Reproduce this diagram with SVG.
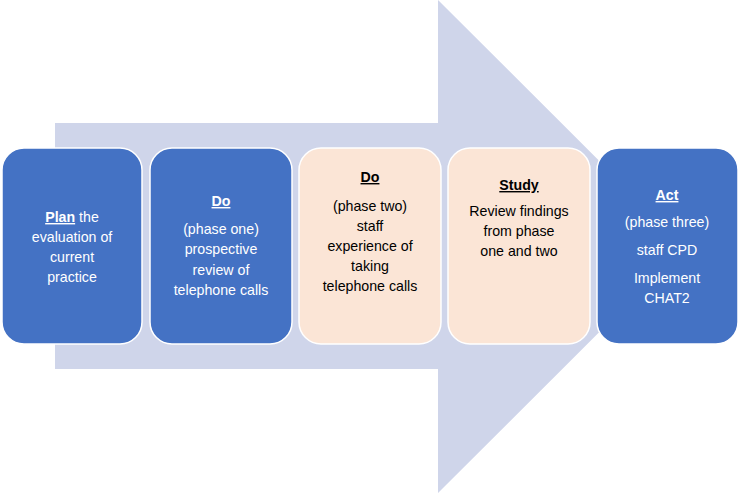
<svg xmlns="http://www.w3.org/2000/svg" width="740" height="493" viewBox="0 0 740 493">
<style>
.box{stroke:#ffffff;stroke-width:1.5}
.blue{fill:#4472C4}
.peach{fill:#FBE5D6}
text{font-family:"Liberation Sans",Arial,sans-serif;font-size:14.2px;text-anchor:middle}
.w{fill:#ffffff}
.k{fill:#000000}
.h{font-weight:bold;text-decoration:underline}
</style>
<rect width="740" height="493" fill="#ffffff"/>
<g id="connectors">
<polygon points="55,123 438,123 438,0 685,246.5 438,493 438,369 55,369" fill="#CFD5EA"/>
</g>
<g id="node-plan">
<rect class="box blue" x="2" y="148" width="140" height="196" rx="22"/>
<text class="w"><tspan x="72" y="222"><tspan class="h">Plan</tspan> the</tspan><tspan x="72" y="242">evaluation of</tspan><tspan x="72" y="262">current</tspan><tspan x="72" y="282">practice</tspan></text>
</g>
<g id="node-do1">
<rect class="box blue" x="150" y="148" width="142" height="196" rx="22"/>
<text class="w"><tspan class="h" x="221" y="206">Do</tspan><tspan x="221" y="234">(phase one)</tspan><tspan x="221" y="254">prospective</tspan><tspan x="221" y="275">review of</tspan><tspan x="221" y="295">telephone calls</tspan></text>
</g>
<g id="node-do2">
<rect class="box peach" x="299" y="148" width="142" height="196" rx="22"/>
<text class="k"><tspan class="h" x="370" y="182">Do</tspan><tspan x="370" y="211">(phase two)</tspan><tspan x="370" y="231">staff</tspan><tspan x="370" y="251">experience of</tspan><tspan x="370" y="271">taking</tspan><tspan x="370" y="291">telephone calls</tspan></text>
</g>
<g id="node-study">
<rect class="box peach" x="448" y="148" width="142" height="196" rx="22"/>
<text class="k"><tspan class="h" x="519" y="190">Study</tspan><tspan x="519" y="216">Review findings</tspan><tspan x="519" y="236">from phase</tspan><tspan x="519" y="256">one and two</tspan></text>
</g>
<g id="node-act">
<rect class="box blue" x="597" y="148" width="141" height="196" rx="22"/>
<text class="w"><tspan class="h" x="667" y="200">Act</tspan><tspan x="667" y="227">(phase three)</tspan><tspan x="667" y="255">staff CPD</tspan><tspan x="667" y="283">Implement</tspan><tspan x="667" y="303">CHAT2</tspan></text>
</g>
</svg>
